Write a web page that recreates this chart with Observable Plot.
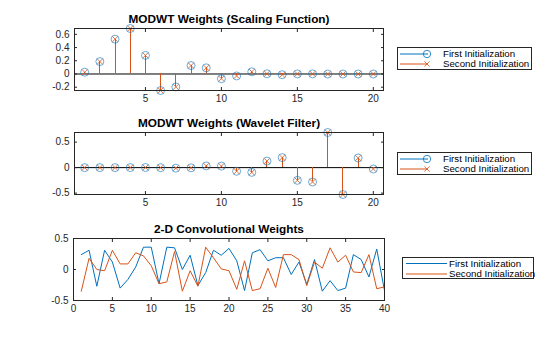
<!DOCTYPE html>
<html>
<head>
<meta charset="utf-8">
<script src="https://cdn.jsdelivr.net/npm/d3@7"></script>
<script src="https://cdn.jsdelivr.net/npm/@observablehq/plot@0.6"></script>
<style>
  html, body { margin: 0; padding: 0; background: #fff; }
  #wrap { position: relative; width: 560px; height: 337px; font-family: "Liberation Sans", Arial, Helvetica, sans-serif; }
  #wrap svg.plot { display: block; }
  .legend { position: absolute; background: #fff; border: 1px solid #262626; box-sizing: border-box; }
</style>
</head>
<body>
<div id="wrap"></div>
<script>
// ---- data ----
const steps = [1,2,3,4,5,6,7,8,9,10,11,12,13,14,15,16,17,18,19,20];
const scalingFirst  = [0.0267, 0.1882, 0.5272, 0.6885, 0.2812, -0.2498, -0.1959, 0.1274, 0.0931, -0.0714, -0.0295, 0.0332, 0.0036, -0.0107, 0.0014, 0.0020, -0.0007, -0.0001, 0.0001, -0.0000];
const scalingSecond = [0.0267, 0.1882, 0.5272, 0.6885, 0.2812, -0.2498, -0.1959, 0.1274, 0.0931, -0.0714, -0.0295, 0.0332, 0.0036, -0.0107, 0.0014, 0.0020, -0.0007, -0.0001, 0.0001, -0.0000];
const waveletFirst  = [-0.0000, -0.0001, -0.0001, 0.0007, 0.0020, -0.0014, -0.0107, -0.0036, 0.0332, 0.0295, -0.0714, -0.0931, 0.1274, 0.1959, -0.2498, -0.2812, 0.6885, -0.5272, 0.1882, -0.0267];
const waveletSecond = [-0.0000, -0.0001, -0.0001, 0.0007, 0.0020, -0.0014, -0.0107, -0.0036, 0.0332, 0.0295, -0.0714, -0.0931, 0.1274, 0.1959, -0.2498, -0.2812, 0.6885, -0.5272, 0.1882, -0.0267];
const convIndex = [1,2,3,4,5,6,7,8,9,10,11,12,13,14,15,16,17,18,19,20,21,22,23,24,25,26,27,28,29,30,31,32,33,34,35,36,37,38,39,40];
const convFirst  = [0.24, 0.31, -0.27, 0.31, 0.12, -0.30, -0.16, 0.04, 0.36, 0.36, -0.23, 0.36, 0.35, 0.00, 0.23, -0.26, -0.05, 0.31, 0.23, 0.34, 0.14, -0.34, 0.27, 0.32, 0.14, 0.19, 0.19, -0.08, 0.12, -0.24, 0.16, -0.35, -0.18, -0.34, -0.30, 0.24, 0.16, -0.12, 0.33, -0.34];
const convSecond = [-0.35, 0.18, 0.00, -0.02, 0.31, 0.09, 0.09, 0.27, 0.22, 0.06, -0.23, -0.20, 0.29, -0.35, -0.02, -0.27, 0.36, 0.19, 0.01, -0.02, -0.32, 0.14, -0.34, -0.31, 0.02, -0.29, 0.24, 0.24, 0.16, -0.26, 0.12, 0.02, 0.35, 0.12, 0.23, -0.04, -0.05, 0.24, -0.31, -0.28];
const titles = ["MODWT Weights (Scaling Function)", "MODWT Weights (Wavelet Filter)", "2-D Convolutional Weights"];
const seriesNames = ["First Initialization", "Second Initialization"];
const stemTicksX = [5, 10, 15, 20];
const scalingTicksY = [-0.2, 0, 0.2, 0.4, 0.6];
const waveletTicksY = [-0.5, 0, 0.5];
const convTicksX = [0, 5, 10, 15, 20, 25, 30, 35, 40];
const convTicksY = [-0.5, 0, 0.5];

// ---- style ----
const BLUE = "#0072BD", ORANGE = "#D95319", AX = "#262626";
const FONT = "'Liberation Sans', Arial, Helvetica, sans-serif";
const wrap = document.getElementById("wrap");

function axesMarks(xt, yt, title) {
  return [
    Plot.axisX(xt, {anchor: "bottom", label: null, tickSize: 0, tickPadding: 4, fontSize: 10, fill: AX}),
    Plot.axisX(xt, {anchor: "bottom", label: null, tickSize: 3, dy: -3, text: null, stroke: AX}),
    Plot.axisX(xt, {anchor: "top", label: null, tickSize: 3, dy: 3, text: null, stroke: AX}),
    Plot.axisY(yt, {anchor: "left", label: null, tickSize: 0, tickPadding: 5, fontSize: 10, fill: AX, tickFormat: d => String(d)}),
    Plot.axisY(yt, {anchor: "left", label: null, tickSize: 3, dx: 3, text: null, stroke: AX}),
    Plot.axisY(yt, {anchor: "right", label: null, tickSize: 3, dx: -3, text: null, stroke: AX}),
    Plot.frame({stroke: AX, strokeWidth: 1}),
    Plot.text([title], {frameAnchor: "top", lineAnchor: "middle", dy: -9, fontSize: 11.8, fontWeight: "bold", fill: "#000"})
  ];
}

function stemPlot(first, second, yDomain, yTicks, title, height, mt, mb) {
  const d1 = steps.map((s, i) => ({x: s, y: first[i]}));
  const d2 = steps.map((s, i) => ({x: s, y: second[i]}));
  return Plot.plot({
    width: 560, height, marginLeft: 74, marginRight: 177, marginTop: mt, marginBottom: mb,
    style: {fontFamily: FONT, background: "transparent", overflow: "visible"},
    x: {domain: [0.33, 20.67], label: null},
    y: {domain: yDomain, label: null},
    marks: [
      Plot.ruleX(d1, {x: "x", y1: 0, y2: "y", stroke: BLUE, strokeWidth: 1, shapeRendering: "crispEdges"}),
      Plot.ruleY([0], {stroke: "#000", strokeWidth: 1}),
      Plot.ruleX(d2, {x: "x", y1: 0, y2: "y", stroke: ORANGE, strokeWidth: 1, shapeRendering: "crispEdges"}),
      Plot.dot(d1, {x: "x", y: "y", r: 4, stroke: BLUE, strokeWidth: 0.7, strokeOpacity: 0.85, fill: "none"}),
      Plot.dot(d2, {x: "x", y: "y", r: 2.6, symbol: "times", stroke: ORANGE, strokeWidth: 0.8}),
      ...axesMarks(stemTicksX, yTicks, title)
    ]
  });
}

const p1 = stemPlot(scalingFirst, scalingSecond, [-0.2498, 0.6885], scalingTicksY, titles[0], 112, 28, 22);
const p2 = stemPlot(waveletFirst, waveletSecond, [-0.5272, 0.6885], waveletTicksY, titles[1], 104, 20, 22);

const c1 = convIndex.map((s, i) => ({x: s, y: convFirst[i]}));
const c2 = convIndex.map((s, i) => ({x: s, y: convSecond[i]}));
const p3 = Plot.plot({
  width: 560, height: 121, marginLeft: 73, marginRight: 176, marginTop: 22, marginBottom: 37,
  style: {fontFamily: FONT, background: "transparent", overflow: "visible"},
  x: {domain: [0, 40], label: null},
  y: {domain: [-0.5, 0.5], label: null},
  marks: [
    Plot.line(c1, {x: "x", y: "y", stroke: BLUE, strokeWidth: 1}),
    Plot.line(c2, {x: "x", y: "y", stroke: ORANGE, strokeWidth: 1}),
    ...axesMarks(convTicksX, convTicksY, titles[2])
  ]
});

wrap.append(p1, p2, p3);

// ---- legends ----
function legend(left, top, w, h, lineX0, lineX1, textX, rows, markers) {
  const div = document.createElement("div");
  div.className = "legend";
  Object.assign(div.style, {left: left + "px", top: top + "px", width: w + "px", height: h + "px"});
  wrap.appendChild(div);
  const svg = d3.select(div).append("svg").attr("width", w - 2).attr("height", h - 2)
    .style("position", "absolute").style("left", "0px").style("top", "0px").style("overflow", "visible");
  const colors = [BLUE, ORANGE];
  seriesNames.forEach((name, i) => {
    const y = rows[i];
    svg.append("line").attr("x1", lineX0).attr("x2", lineX1).attr("y1", y).attr("y2", y)
      .attr("stroke", colors[i]).attr("stroke-width", 1);
    if (markers) {
      if (i === 0) {
        svg.append("circle").attr("cx", lineX1 - 1).attr("cy", y).attr("r", 3.7)
          .attr("fill", "none").attr("stroke", BLUE).attr("stroke-width", 0.8);
      } else {
        const cx = lineX1 - 1, s = 2.6;
        svg.append("path").attr("d", `M${cx - s},${y - s}L${cx + s},${y + s}M${cx - s},${y + s}L${cx + s},${y - s}`)
          .attr("stroke", ORANGE).attr("stroke-width", 0.8);
      }
    }
    svg.append("text").attr("x", textX).attr("y", y).attr("dy", "0.35em")
      .attr("font-family", FONT).attr("font-size", 9.7).attr("fill", "#000").text(name);
  });
}
legend(397, 47, 135, 23, 2, 30, 45, [6, 16], true);
legend(397, 152, 135, 23, 2, 30, 45, [6, 16], true);
legend(402, 257, 132, 22, 3, 44, 46, [5.5, 16], false);
</script>
</body>
</html>
